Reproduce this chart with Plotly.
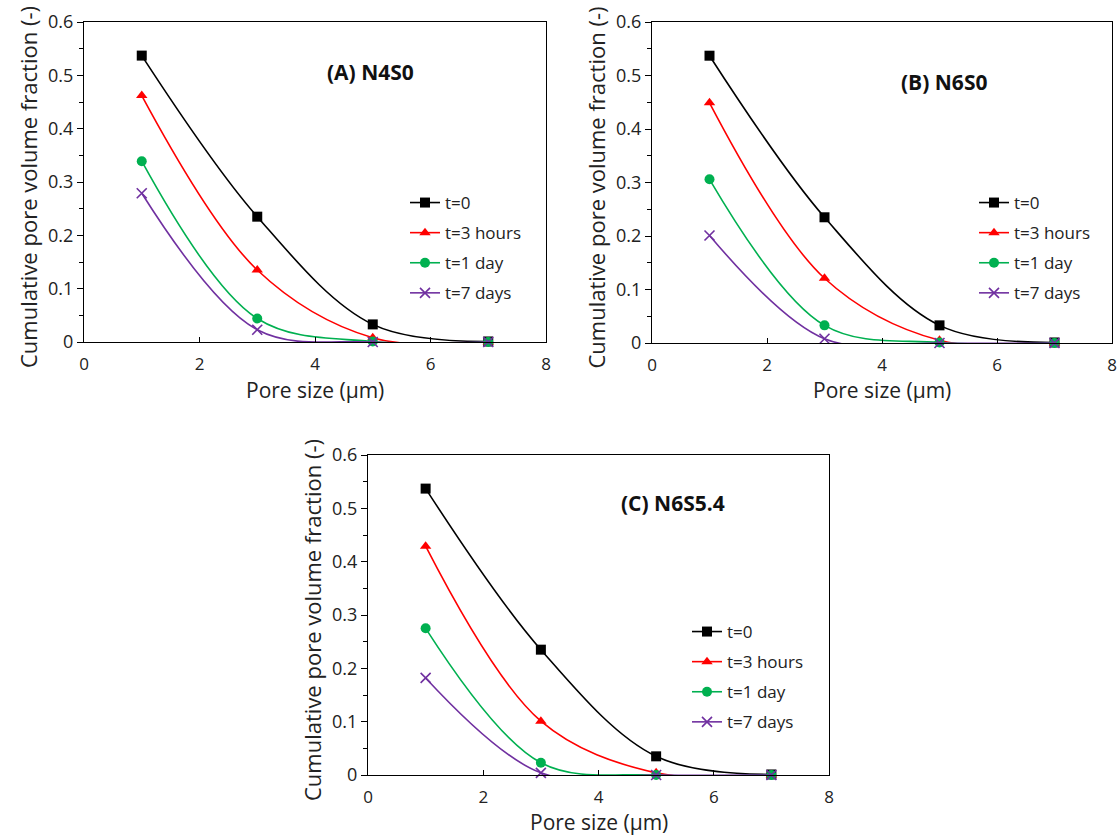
import plotly.graph_objects as go

W, H = 1117, 837

pore_size = [1, 3, 5, 7]
series_names = ["t=0", "t=3 hours", "t=1 day", "t=7 days"]

# Panel A: N4S0
a_t0 = [0.537, 0.235, 0.033, 0.001]
a_t3h = [0.462, 0.135, 0.008, 0.0]
a_t1d = [0.339, 0.044, 0.001, 0.0]
a_t7d = [0.279, 0.023, 0.0, 0.0]

# Panel B: N6S0
b_t0 = [0.537, 0.235, 0.033, 0.001]
b_t3h = [0.449, 0.121, 0.005, 0.0]
b_t1d = [0.306, 0.033, 0.001, 0.0]
b_t7d = [0.201, 0.008, 0.0, 0.0]

# Panel C: N6S5.4
c_t0 = [0.537, 0.235, 0.035, 0.001]
c_t3h = [0.429, 0.101, 0.004, 0.0]
c_t1d = [0.275, 0.023, 0.0, 0.0]
c_t7d = [0.182, 0.004, 0.0, 0.0]

panel_titles = ["(A) N4S0", "(B) N6S0", "(C) N6S5.4"]
x_ticks = [0, 2, 4, 6, 8]
y_ticks = [0, 0.1, 0.2, 0.3, 0.4, 0.5, 0.6]
y_tick_text = ["0", "0.1", "0.2", "0.3", "0.4", "0.5", "0.6"]

colors = ["#000000", "#ff0000", "#00b050", "#7030a0"]
symbols = ["square", "triangle-up", "circle", "x-thin"]

FONT = "Open Sans"

# panel boxes in pixels: (x0, x1, ytop, ybottom)
boxes = [(84, 546, 22, 342), (652, 1112, 22, 343), (368, 829, 455, 775)]
legend_pos = [(405, 185), (974, 185), (687, 614)]
title_pos = [(370, 72), (944, 82), (673, 503)]
xtitle_y = [390, 390, 822]

panels = [
    [a_t0, a_t3h, a_t1d, a_t7d],
    [b_t0, b_t3h, b_t1d, b_t7d],
    [c_t0, c_t3h, c_t1d, c_t7d],
]

fig = go.Figure()
layout = dict(
    width=W, height=H,
    margin=dict(l=0, r=0, t=0, b=0, autoexpand=False),
    paper_bgcolor="white", plot_bgcolor="white",
    font=dict(family=FONT, color="#222222"),
    showlegend=True,
)
annotations = []

for p, data in enumerate(panels):
    sfx = "" if p == 0 else str(p + 1)
    xa, ya = "x" + sfx, "y" + sfx
    leg = "legend" if p == 0 else "legend" + str(p + 1)
    x0, x1, yt, yb = boxes[p]
    for i, vals in enumerate(data):
        mk = dict(symbol=symbols[i], color=colors[i], size=10,
                  line=dict(color=colors[i], width=1.6 if i == 3 else 0))
        fig.add_trace(go.Scatter(
            x=pore_size, y=vals, name=series_names[i], mode="lines+markers",
            line=dict(color=colors[i], width=1.6, shape="spline", smoothing=1.0),
            marker=mk, xaxis=xa, yaxis=ya, legend=leg, legendgroup=f"{p}-{i}",
            cliponaxis=False,
        ))
    axis_common = dict(showline=True, linecolor="black", linewidth=1.3, mirror=True,
                       showgrid=False, zeroline=False, automargin=False,
                       ticklabeloverflow="allow")
    layout["xaxis" + sfx] = dict(
        domain=[x0 / W, x1 / W], range=[0, 8], anchor=ya,
        tickmode="array", tickvals=x_ticks, ticks="inside", ticklen=5,
        tickcolor="black", ticklabelstandoff=6,
        tickfont=dict(size=17, family=FONT, color="#222"),
        **axis_common)
    layout["yaxis" + sfx] = dict(
        domain=[1 - yb / H, 1 - yt / H], range=[0, 0.6], anchor=xa,
        tickmode="array", tickvals=y_ticks, ticktext=y_tick_text,
        ticks="outside", ticklen=6, tickcolor="black",
        minor=dict(ticks="outside", ticklen=4, dtick=0.05, tickcolor="black"),
        tickfont=dict(size=18, family=FONT, color="#222"),
        **axis_common)
    lx, ly = legend_pos[p]
    layout[leg] = dict(
        x=lx / W, y=1 - ly / H, xanchor="left", yanchor="top",
        bgcolor="rgba(0,0,0,0)", font=dict(size=17, family=FONT, color="#222"),
        itemwidth=30, tracegroupgap=5, traceorder="grouped",
    )
    tx, ty = title_pos[p]
    annotations.append(dict(text="<b>" + panel_titles[p] + "</b>", x=tx / W, y=1 - ty / H,
                            xref="paper", yref="paper", showarrow=False,
                            xanchor="center", yanchor="middle",
                            font=dict(size=21, family=FONT, color="#111")))
    # axis titles
    annotations.append(dict(text="Pore size (\u00b5m)", x=(x0 + x1) / 2 / W, y=1 - xtitle_y[p] / H,
                            xref="paper", yref="paper", showarrow=False,
                            xanchor="center", yanchor="middle",
                            font=dict(size=21, family=FONT, color="#222")))
    annotations.append(dict(text="Cumulative pore volume fraction (-)", x=(x0 - 56) / W,
                            y=1 - ((yt + yb) / 2 + 5) / H, xref="paper", yref="paper",
                            showarrow=False, textangle=-90,
                            xanchor="center", yanchor="middle",
                            font=dict(size=22, family=FONT, color="#222")))

layout["annotations"] = annotations
fig.update_layout(**layout)
fig.write_html("out.html")
